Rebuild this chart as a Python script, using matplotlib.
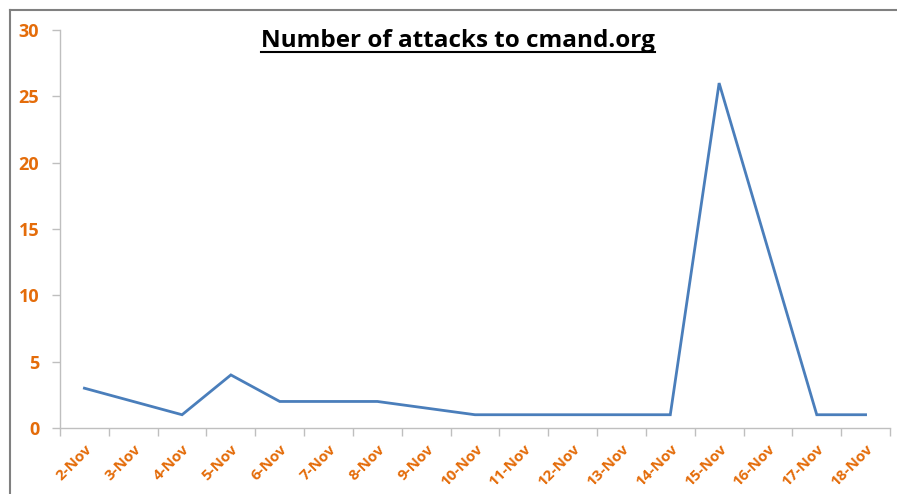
import numpy as np
import matplotlib.pyplot as plt
from matplotlib.lines import Line2D

# data
days = ['2-Nov', '3-Nov', '4-Nov', '5-Nov', '6-Nov', '7-Nov', '8-Nov', '9-Nov',
        '10-Nov', '11-Nov', '12-Nov', '13-Nov', '14-Nov', '15-Nov', '16-Nov',
        '17-Nov', '18-Nov']
attacks = [3, 2, 1, 4, 2, 2, 2, 1.5, 1, 1, 1, 1, 1, 26, 13.5, 1, 1]
yticks = [0, 5, 10, 15, 20, 25, 30]

orange = '#E46C0A'
grid_gray = '#BFBFBF'
font = 'Open Sans'

fig = plt.figure(figsize=(8.97, 4.94), dpi=100)
ax = fig.add_axes([60 / 897, 66 / 494, 830 / 897, 398 / 494])

x = np.arange(len(days))
ax.plot(x, attacks, color='#4A7EBB', linewidth=2.0, solid_joinstyle='miter')

ax.set_xlim(-0.5, len(days) - 0.5)
ax.set_ylim(0, 30)

ax.set_xticks(x)
ax.set_xticklabels(days, rotation=45, ha='right', rotation_mode='anchor')
ax.set_xticks(np.arange(len(days) + 1) - 0.5, minor=True)
ax.tick_params(axis='x', which='major', length=0, pad=10,
               labelcolor=orange, labelsize=11)
ax.tick_params(axis='x', which='minor', length=6, color=grid_gray, width=1)

ax.set_yticks(yticks)
ax.tick_params(axis='y', length=6, color=grid_gray, width=1, pad=9,
               labelcolor=orange, labelsize=13)

for lab in ax.get_xticklabels() + ax.get_yticklabels():
    lab.set_fontweight('bold')
    lab.set_family(font)

for side in ['top', 'right']:
    ax.spines[side].set_visible(False)
for side in ['left', 'bottom']:
    ax.spines[side].set_color(grid_gray)
    ax.spines[side].set_linewidth(1)

# title, underlined
title = fig.text(458 / 897, 1 - 41 / 494, 'Number of attacks to cmand.org',
                 ha='center', va='center', fontsize=17.5, fontweight='bold',
                 family=font, color='black')
fig.canvas.draw()
bb = title.get_window_extent().transformed(fig.transFigure.inverted())
fig.add_artist(Line2D([bb.x0, bb.x1], [bb.y0 + 0.002, bb.y0 + 0.002],
                      transform=fig.transFigure, color='black', linewidth=1.5))

# outer frame (top and left edges only visible)
fig.add_artist(Line2D([10 / 897, 1], [1 - 10 / 494, 1 - 10 / 494],
                      transform=fig.transFigure, color='#808080', linewidth=1.5))
fig.add_artist(Line2D([10 / 897, 10 / 897], [0, 1 - 10 / 494],
                      transform=fig.transFigure, color='#808080', linewidth=1.5))

fig.savefig('out.png', dpi=100)
